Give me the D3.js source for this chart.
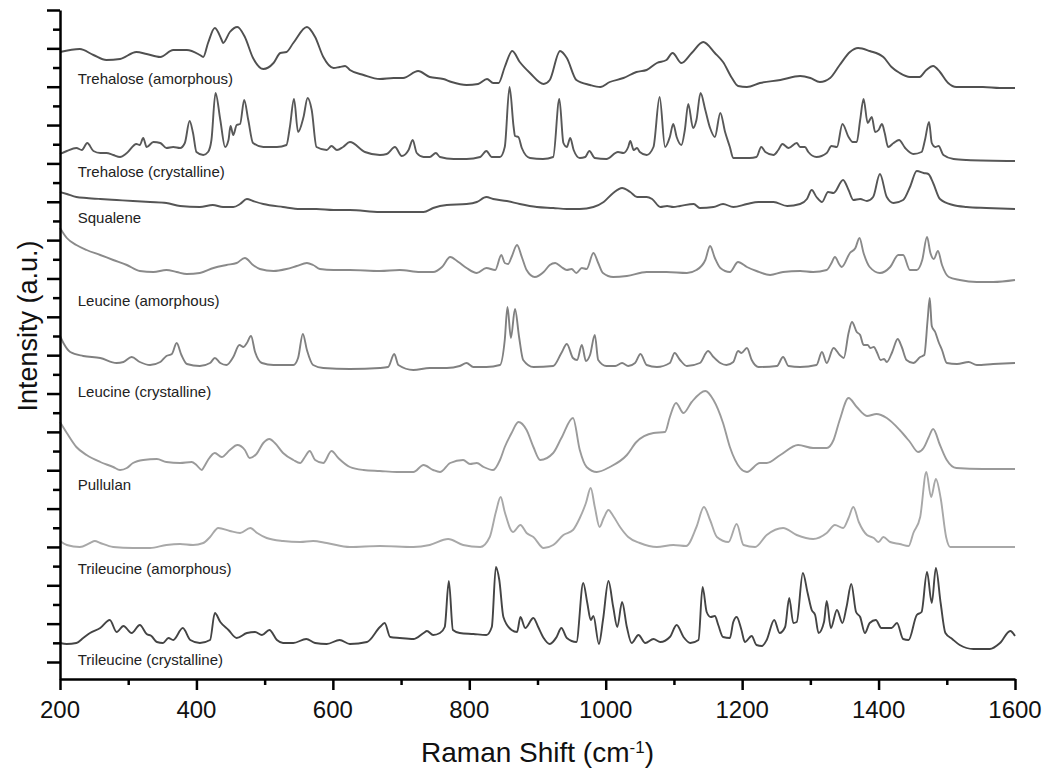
<!DOCTYPE html>
<html>
<head>
<meta charset="utf-8">
<script src="https://cdn.jsdelivr.net/npm/d3@7"></script>
<style>
  html, body { margin: 0; padding: 0; background: #fff; }
  svg { display: block; overflow: visible; }
  text { font-family: "Liberation Sans", Arial, sans-serif; }
</style>
</head>
<body>
<script>
// spectra: [Raman shift (cm-1), stacked intensity (a.u.)]
const trehaloseAmorphous = [[200,610],[229,613],[249,607],[268,602],[288,603],[312,610],[327,608],[347,605],[366,612],[386,612],[405,607],[410,605],[417,619],[427,634],[437,622],[439,619],[449,630],[460,635],[471,625],[483,604],[498,593],[513,599],[523,609],[532,610],[542,619],[562,635],[574,625],[586,605],[601,594],[610,595],[618,596],[625,592],[645,587],[669,583],[689,584],[703,584],[725,591],[742,585],[762,583],[774,580],[796,577],[813,578],[826,583],[835,579],[843,579],[852,595],[863,611],[874,600],[889,589],[909,578],[918,582],[933,611],[943,604],[957,582],[977,577],[992,575],[1006,580],[1026,584],[1045,590],[1060,592],[1075,599],[1089,602],[1098,609],[1111,599],[1126,609],[1143,620],[1160,609],[1172,600],[1185,584],[1194,576],[1207,575],[1226,579],[1256,582],[1285,586],[1300,584],[1314,580],[1329,584],[1343,597],[1358,610],[1370,614],[1387,611],[1407,605],[1419,595],[1431,589],[1446,585],[1460,585],[1470,592],[1480,596],[1490,590],[1502,579],[1514,575],[1553,575],[1578,574],[1600,574]];

const trehaloseCrystalline = [[200,508],[210,511],[224,514],[232,512],[240,519],[249,511],[259,509],[268,509],[278,507],[288,505],[298,509],[312,518],[317,517],[322,524],[327,515],[337,520],[347,519],[356,514],[366,515],[376,514],[383,519],[390,541],[395,529],[400,510],[410,507],[417,510],[422,522],[428,569],[435,542],[442,515],[447,522],[450,536],[454,527],[459,537],[464,538],[470,562],[476,542],[483,519],[498,515],[518,515],[532,517],[537,535],[543,563],[549,530],[557,545],[563,564],[569,552],[576,515],[591,512],[598,516],[606,512],[615,515],[625,520],[647,510],[669,507],[679,508],[691,515],[701,506],[711,512],[717,522],[723,509],[733,505],[742,505],[751,509],[757,505],[777,503],[796,503],[816,505],[825,511],[833,505],[845,505],[852,515],[859,575],[865,535],[867,526],[872,525],[877,514],[889,504],[908,503],[923,505],[932,563],[938,519],[943,515],[948,524],[953,512],[962,504],[970,505],[976,511],[984,504],[1001,503],[1018,510],[1026,509],[1033,515],[1036,521],[1041,512],[1046,514],[1050,510],[1060,507],[1070,515],[1079,565],[1087,515],[1094,525],[1099,538],[1104,525],[1111,517],[1116,532],[1121,558],[1128,534],[1133,542],[1139,569],[1146,552],[1153,534],[1160,525],[1168,549],[1175,530],[1182,515],[1187,504],[1211,504],[1221,505],[1228,515],[1234,510],[1246,507],[1253,512],[1259,518],[1268,514],[1280,519],[1285,515],[1292,515],[1297,510],[1309,505],[1324,509],[1331,516],[1339,515],[1347,538],[1356,525],[1362,520],[1368,520],[1373,542],[1378,563],[1384,539],[1390,545],[1395,530],[1400,532],[1405,538],[1409,529],[1414,515],[1422,519],[1430,522],[1439,514],[1451,508],[1463,510],[1468,522],[1474,540],[1478,519],[1483,515],[1488,516],[1495,507],[1510,503],[1529,502],[1600,501]];

const squalene = [[200,470],[210,468],[224,465],[239,464],[259,463],[283,462],[307,461],[332,460],[356,459],[376,456],[405,455],[424,457],[439,455],[454,455],[464,458],[474,463],[483,461],[498,458],[527,455],[552,453],[576,453],[601,452],[625,452],[669,450],[698,450],[733,450],[747,454],[767,457],[796,458],[811,460],[825,465],[835,463],[855,461],[874,458],[899,455],[923,454],[943,453],[962,453],[982,455],[997,460],[1011,469],[1024,474],[1036,470],[1046,465],[1060,465],[1068,463],[1080,455],[1090,456],[1099,455],[1109,456],[1129,458],[1138,454],[1158,455],[1172,458],[1187,455],[1207,458],[1224,460],[1246,460],[1266,456],[1285,458],[1295,463],[1302,472],[1309,465],[1317,460],[1326,470],[1334,469],[1348,482],[1356,472],[1363,462],[1373,463],[1383,461],[1392,465],[1402,488],[1412,465],[1422,459],[1436,462],[1446,475],[1456,491],[1466,489],[1473,488],[1480,479],[1490,463],[1509,457],[1529,455],[1558,454],[1600,453]];

const leucineAmorphous = [[200,434],[210,424],[224,417],[239,412],[259,407],[278,402],[298,397],[317,391],[337,390],[356,392],[371,390],[386,388],[405,389],[425,394],[444,397],[459,399],[471,404],[483,397],[493,393],[513,391],[532,393],[547,396],[562,399],[571,397],[581,393],[601,392],[625,392],[669,391],[698,392],[728,390],[747,390],[760,395],[772,405],[784,400],[796,394],[811,389],[825,394],[838,392],[847,407],[852,399],[857,398],[862,405],[870,417],[877,405],[884,392],[896,385],[909,390],[918,397],[926,399],[935,395],[943,392],[950,393],[957,389],[965,394],[972,393],[982,409],[989,399],[996,389],[1011,385],[1031,386],[1060,390],[1089,390],[1119,389],[1133,392],[1146,402],[1153,416],[1160,404],[1168,394],[1182,390],[1194,400],[1207,395],[1221,391],[1241,387],[1260,390],[1285,391],[1304,390],[1324,392],[1331,399],[1336,405],[1343,397],[1346,395],[1358,409],[1366,414],[1372,424],[1378,409],[1387,395],[1402,389],[1417,395],[1429,407],[1436,407],[1446,392],[1456,392],[1464,402],[1471,425],[1476,409],[1481,403],[1487,411],[1493,397],[1503,385],[1519,382],[1544,380],[1568,380],[1600,382]];

const leucineCrystalline = [[200,326],[205,319],[215,310],[234,306],[259,304],[283,299],[293,300],[305,305],[317,300],[332,297],[347,300],[356,306],[364,308],[371,319],[378,307],[386,298],[405,296],[420,299],[427,304],[435,299],[444,297],[454,305],[463,317],[469,315],[474,319],[480,326],[486,310],[496,299],[513,297],[542,297],[549,304],[556,328],[562,312],[571,297],[586,294],[625,293],[669,294],[681,295],[690,308],[696,297],[718,292],[742,294],[767,294],[786,296],[796,299],[806,295],[825,295],[845,297],[852,322],[856,355],[861,324],[867,353],[873,325],[879,302],[894,295],[923,296],[935,309],[943,318],[952,304],[958,302],[965,317],[971,301],[977,307],[984,327],[989,302],[1001,296],[1014,296],[1024,299],[1033,296],[1043,299],[1051,308],[1060,297],[1075,295],[1094,299],[1101,309],[1109,302],[1119,296],[1138,299],[1150,311],[1158,305],[1168,299],[1177,297],[1187,300],[1194,311],[1199,309],[1207,314],[1214,302],[1224,295],[1251,296],[1260,305],[1268,296],[1285,295],[1309,297],[1317,310],[1324,299],[1334,314],[1343,307],[1349,304],[1356,329],[1361,340],[1368,330],[1373,327],[1378,317],[1384,317],[1388,314],[1393,315],[1398,309],[1403,302],[1408,303],[1412,300],[1420,310],[1428,323],[1434,315],[1441,302],[1451,299],[1461,305],[1467,307],[1472,343],[1475,364],[1478,336],[1483,330],[1488,320],[1493,312],[1500,299],[1515,298],[1532,300],[1544,297],[1568,298],[1600,299]];

const pullulan = [[200,240],[210,229],[224,215],[239,207],[259,200],[278,195],[288,192],[298,194],[307,199],[322,202],[342,203],[356,200],[376,199],[393,200],[400,197],[408,192],[411,195],[417,202],[427,209],[437,205],[449,212],[460,217],[471,212],[478,204],[488,208],[498,219],[507,223],[515,219],[527,209],[542,202],[552,199],[559,205],[566,211],[574,202],[586,199],[598,211],[608,204],[625,195],[645,192],[669,191],[694,190],[718,190],[733,197],[747,192],[757,190],[772,199],[791,202],[801,198],[811,199],[821,195],[835,192],[845,202],[852,215],[862,229],[872,240],[884,232],[894,215],[904,202],[923,209],[935,224],[952,244],[962,212],[972,195],[987,190],[1006,195],[1031,207],[1045,220],[1070,229],[1087,230],[1094,245],[1103,259],[1114,249],[1126,260],[1146,271],[1158,262],[1172,239],[1182,215],[1197,194],[1207,190],[1226,199],[1236,199],[1256,207],[1282,217],[1304,214],[1324,214],[1334,222],[1343,242],[1356,264],[1368,255],[1383,246],[1397,248],[1412,244],[1431,232],[1446,220],[1458,210],[1466,214],[1473,224],[1480,233],[1490,217],[1500,202],[1514,194],[1553,193],[1600,193]];

const trileucineAmorphous = [[200,121],[210,117],[229,115],[244,119],[251,121],[259,119],[278,115],[307,114],[332,114],[356,117],[376,118],[395,117],[410,119],[420,125],[432,134],[449,131],[464,129],[479,134],[489,129],[503,124],[527,121],[552,120],[571,121],[591,119],[625,115],[669,116],[718,115],[742,117],[769,123],[791,117],[816,115],[830,125],[839,150],[846,165],[852,150],[864,130],[875,137],[884,129],[894,125],[909,114],[923,117],[938,127],[952,132],[962,144],[971,159],[978,174],[984,155],[991,135],[997,144],[1004,152],[1011,146],[1021,135],[1033,125],[1050,119],[1075,115],[1099,117],[1118,116],[1133,135],[1144,155],[1153,142],[1163,125],[1180,120],[1192,138],[1202,117],[1219,115],[1236,127],[1260,134],[1280,127],[1304,123],[1324,129],[1336,137],[1348,134],[1356,144],[1363,155],[1371,140],[1383,127],[1393,124],[1400,120],[1407,125],[1417,120],[1431,118],[1444,116],[1451,129],[1461,145],[1470,190],[1477,165],[1484,183],[1491,164],[1499,125],[1505,115],[1529,115],[1600,115]];

const trileucineCrystalline = [[200,19],[210,18],[224,19],[234,24],[244,29],[259,34],[273,42],[283,30],[293,36],[305,29],[317,37],[327,28],[334,26],[342,20],[351,19],[359,24],[366,22],[380,34],[391,22],[405,19],[420,22],[427,49],[435,40],[447,32],[459,24],[474,29],[486,30],[496,27],[507,32],[518,22],[527,19],[542,19],[561,23],[574,19],[591,18],[610,22],[625,18],[650,20],[669,35],[676,39],[684,25],[698,24],[718,23],[733,29],[738,31],[747,27],[757,29],[764,35],[770,81],[776,32],[786,29],[806,28],[825,27],[833,35],[839,95],[844,82],[850,45],[862,32],[870,30],[875,45],[882,34],[894,44],[901,35],[909,24],[918,18],[928,25],[935,34],[943,24],[957,20],[967,79],[973,59],[978,42],[982,46],[990,18],[996,42],[1004,81],[1011,55],[1017,35],[1024,60],[1031,35],[1038,19],[1048,27],[1058,19],[1070,23],[1080,20],[1094,25],[1104,37],[1114,25],[1124,19],[1136,22],[1142,75],[1148,50],[1154,45],[1160,46],[1165,37],[1172,25],[1182,24],[1187,40],[1192,45],[1199,32],[1204,20],[1214,26],[1221,17],[1229,16],[1236,22],[1247,42],[1255,29],[1263,35],[1269,64],[1275,39],[1280,40],[1289,89],[1296,69],[1302,52],[1307,47],[1312,29],[1320,40],[1324,61],[1330,34],[1339,52],[1347,39],[1353,55],[1360,78],[1367,50],[1373,45],[1380,29],[1387,39],[1396,42],[1404,34],[1419,34],[1427,39],[1436,23],[1444,22],[1456,47],[1463,50],[1471,90],[1478,59],[1484,94],[1491,59],[1498,29],[1508,23],[1519,17],[1539,13],[1563,13],[1578,19],[1593,31],[1600,26]];

// sample names, label heights (a.u.) and line greys, top to bottom
const sampleNames = ["Trehalose (amorphous)", "Trehalose (crystalline)", "Squalene", "Leucine (amorphous)",
  "Leucine (crystalline)", "Pullulan", "Trileucine (amorphous)", "Trileucine (crystalline)"];
const spectra = [trehaloseAmorphous, trehaloseCrystalline, squalene, leucineAmorphous,
  leucineCrystalline, pullulan, trileucineAmorphous, trileucineCrystalline];
const labelLevels = [578, 485, 439, 356, 265, 172, 88, -3];
const lineColors = ["#505050", "#585858", "#555", "#8a8a8a", "#808080", "#9a9a9a", "#a8a8a8", "#444"];

const xTicks = [200, 400, 600, 800, 1000, 1200, 1400, 1600];

const margin = { top: 10, right: 35, bottom: 99, left: 60 };
const width = 1050, height = 778;
const innerWidth = width - margin.left - margin.right;
const innerHeight = height - margin.top - margin.bottom;

const svg = d3.select("body").append("svg")
  .attr("width", width).attr("height", height);
const g = svg.append("g").attr("transform", `translate(${margin.left},${margin.top})`);

const x = d3.scaleLinear().domain([200, 1600]).range([0, innerWidth]);
const y = d3.scaleLinear().domain([-17, 652]).range([innerHeight, 0]);

const line = d3.line()
  .x(d => x(d[0]))
  .y(d => y(d[1]))
  .curve(d3.curveMonotoneX);

spectra.forEach((s, i) => {
  g.append("path")
    .datum(s)
    .attr("fill", "none")
    .attr("stroke", lineColors[i])
    .attr("stroke-width", 1.9)
    .attr("stroke-linejoin", "round")
    .attr("d", line);
  g.append("text")
    .attr("x", x(226))
    .attr("y", y(labelLevels[i]))
    .attr("font-size", 15)
    .attr("fill", "#222")
    .text(sampleNames[i]);
});

// x axis with minor ticks
const xMinor = d3.range(300, 1600, 200);
const xMinorAxis = g.append("g")
  .attr("transform", `translate(0,${innerHeight})`)
  .call(d3.axisBottom(x).tickValues(xMinor).tickSize(6).tickFormat(""));
xMinorAxis.select(".domain").remove();
xMinorAxis.selectAll("text").remove();
xMinorAxis.selectAll("line").attr("stroke-width", 2.5);

const xAxis = g.append("g")
  .attr("transform", `translate(0,${innerHeight})`)
  .call(d3.axisBottom(x).tickValues(xTicks).tickSize(11).tickSizeOuter(0).tickFormat(""));
xAxis.selectAll("text").remove();
xAxis.select(".domain").attr("stroke-width", 2.5);
xAxis.selectAll(".tick line").attr("stroke-width", 2.5);

// tick labels drawn as plain texts under the axis
svg.append("g").selectAll("text")
  .data(xTicks)
  .join("text")
  .attr("x", d => margin.left + x(d))
  .attr("y", 718)
  .attr("text-anchor", "middle")
  .attr("font-size", 24)
  .attr("fill", "#111")
  .text(d => d);

// y axis: unlabeled ticks
const yStep = 652 / 17;
const yMajor = d3.range(0, 18).map(i => i * yStep);
const yMinor = d3.range(0, 17).map(i => (i + 0.5) * yStep);
const yMinorAxis = g.append("g")
  .call(d3.axisLeft(y).tickValues(yMinor).tickSize(7).tickFormat(""));
yMinorAxis.select(".domain").remove();
yMinorAxis.selectAll("text").remove();
yMinorAxis.selectAll("line").attr("stroke-width", 2.5);

const yAxis = g.append("g")
  .call(d3.axisLeft(y).tickValues(yMajor).tickSize(13).tickSizeOuter(0).tickFormat(""));
yAxis.selectAll("text").remove();
yAxis.select(".domain").attr("stroke-width", 2.5);
yAxis.selectAll(".tick line").attr("stroke-width", 2.5);

// axis titles
const xTitle = svg.append("text")
  .attr("x", margin.left + innerWidth / 2)
  .attr("y", 762)
  .attr("text-anchor", "middle")
  .attr("font-size", 28)
  .attr("fill", "#111");
xTitle.append("tspan").text("Raman Shift (cm");
xTitle.append("tspan").attr("font-size", 17).attr("baseline-shift", "super").text("-1");
xTitle.append("tspan").text(")");

svg.append("text")
  .attr("transform", `translate(37,326) rotate(-90)`)
  .attr("text-anchor", "middle")
  .attr("font-size", 27)
  .attr("fill", "#111")
  .text("Intensity (a.u.)");
</script>
</body>
</html>
